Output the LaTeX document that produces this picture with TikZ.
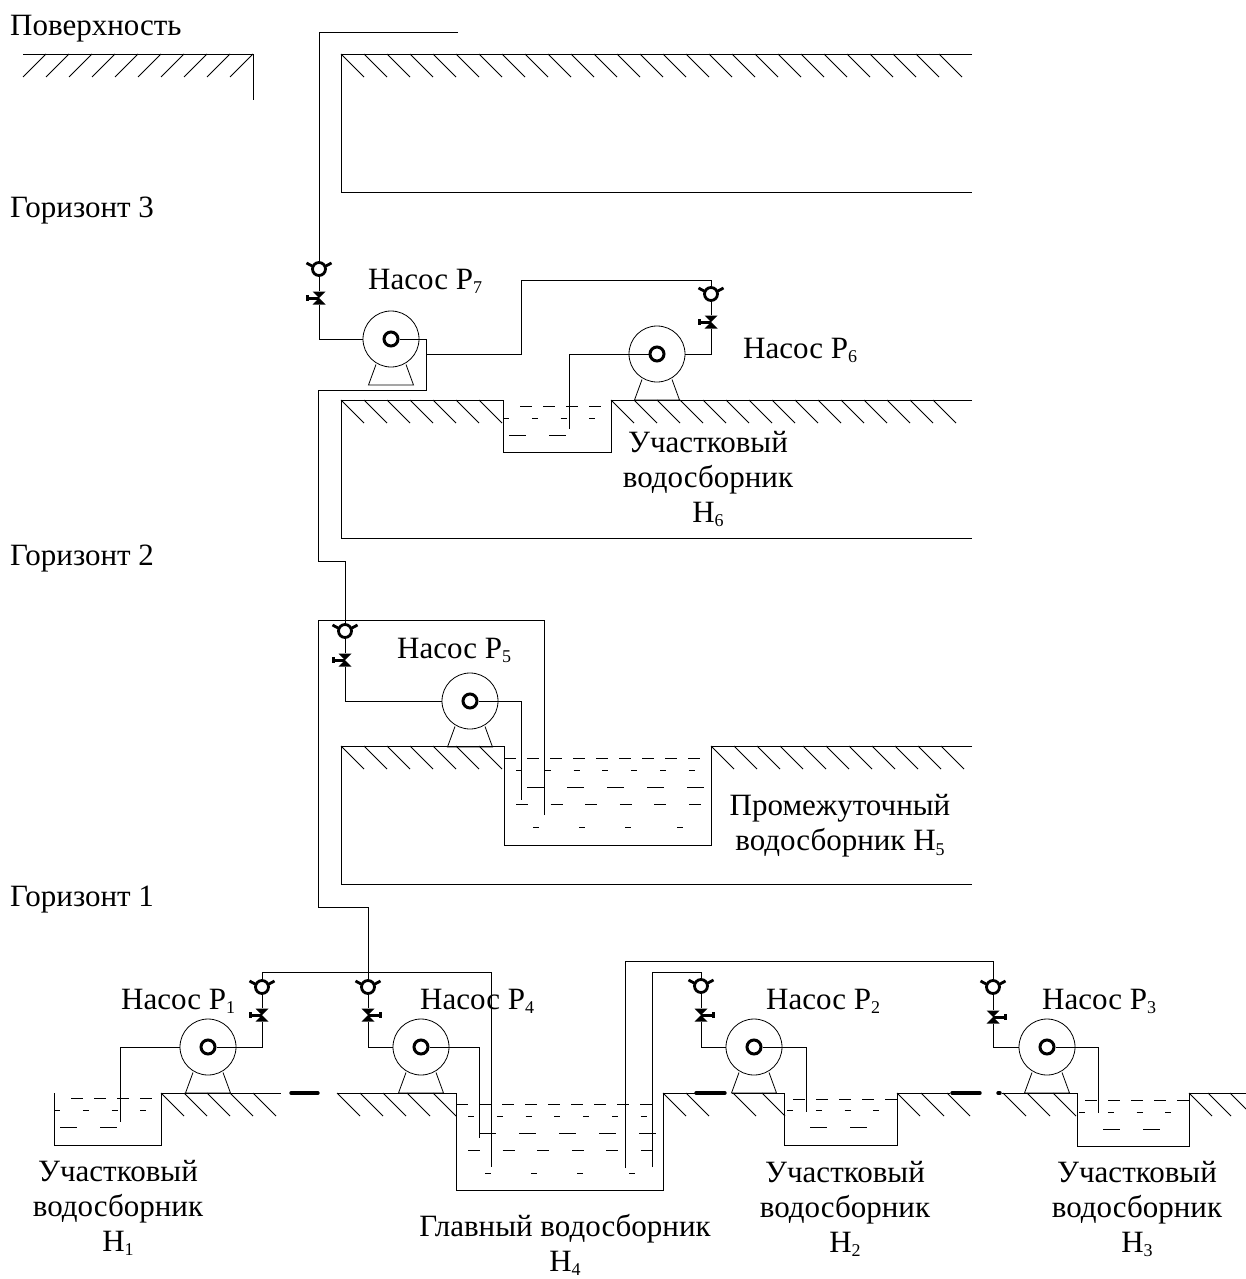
\documentclass[tikz,border=0pt]{standalone}
\usepackage{fontspec}
\setmainfont{Liberation Serif}
\newcommand{\lowidx}[1]{\raisebox{-4.5pt}{\fontsize{18}{18}\selectfont #1}}
\tikzset{
  pipe/.style={line width=0.9pt},
  ground/.style={line width=0.9pt},
  hatch/.style={line width=0.8pt},
  water/.style={line width=0.8pt},
  seal/.style={line width=3.4pt,line cap=round},
  txt/.style={font=\fontsize{31}{35}\selectfont,align=center,inner sep=0pt},
  pumpbody/.style={circle,draw,line width=0.8pt,minimum size=56pt,inner sep=0pt},
  pumpring/.style={circle,draw,line width=3pt,minimum size=14pt,inner sep=0pt},
  checkring/.style={circle,draw,line width=2.8pt,minimum size=13pt,inner sep=0pt},
  pics/pump/.style={code={
    \node[pumpbody] (-body) at (0,0) {};
    \node[pumpring] (-ring) at (0,0) {};
    \draw[line width=0.8pt] (-15,25.5) -- (-22.5,46) -- (22.5,46) -- (15,25.5);
  }},
  pics/checkvalve/.style={code={
    \node[checkring] (-ring) at (0,0) {};
    \draw[line width=2.8pt] (-12.5,-6) -- (-6,-2.5) (12.5,-6) -- (6,-2.5);
  }},
  pics/gate/.style={code={
    \node[inner sep=0pt,minimum size=13pt] (-body) at (0,0) {};
    \fill (-6.5,-6.5) -- (6.5,-6.5) -- (0,0) -- cycle (-6.5,6.5) -- (6.5,6.5) -- (0,0) -- cycle;
    \draw[line width=3pt] (-12,0) -- (0,0);
    \fill (-13.5,-3.2) rectangle (-10.5,3.2);
  }}
}
\newcommand{\hatchrow}[2]{\foreach \x in {#2} \draw[hatch] (\x,#1) -- ++(23,23);}
\newcommand{\dashrow}[5]{\foreach \k in {0,...,#4} \draw[water] ({#1+\k*#2},#5) -- ++(#3,0);}
\newcommand{\bigsump}[2]{
  \begin{scope}[shift={(#1,#2)}]
    \dashrow{456}{23}{12}{8}{1104}
    \dashrow{468}{28.8}{6}{6}{1116}
    \dashrow{479}{40}{17}{4}{1133}
    \dashrow{468}{34.6}{12}{5}{1150}
    \foreach \x in {485,531,577,629} \draw[water] (\x,1173) -- ++(6,0);
  \end{scope}
}
\begin{document}
\begin{tikzpicture}[x=1pt,y=-1pt]
  \useasboundingbox (0,0) rectangle (1246,1279);

  \draw[ground] (23,54) -- (253,54) -- (253,100);
  \foreach \x in {23,46,...,230} \draw[hatch] (\x,77) -- ++(23,-23);
  \draw[ground] (972,54) -- (341,54) -- (341,192) -- (972,192);
  \hatchrow{54}{341,364,...,939}
  \draw[ground] (972,400) -- (611,400) -- (611,452) -- (503,452) -- (503,400) -- (341,400) -- (341,538) -- (972,538);
  \hatchrow{400}{341,364,...,480}
  \hatchrow{400}{611,634,...,945}
  \draw[ground] (972,746) -- (711,746) -- (711,845) -- (504,845) -- (504,746) -- (341,746) -- (341,884) -- (972,884);
  \hatchrow{746}{341,364,...,481}
  \hatchrow{746}{711,734,...,945}

  \draw[ground] (54,1093) -- (54,1145) -- (161,1145) -- (161,1093) -- (281,1093);
  \draw[seal] (291,1093) -- (318,1093);
  \draw[ground] (337,1093) -- (456,1093) -- (456,1190) -- (663,1190) -- (663,1093) -- (695,1093);
  \draw[seal] (696,1093) -- (725,1093);
  \draw[ground] (732,1093) -- (784,1093) -- (784,1145) -- (897,1145) -- (897,1093) -- (950,1093);
  \draw[seal] (952,1093) -- (980,1093);
  \draw[seal] (998,1093) -- (1000,1093);
  \draw[ground] (1002,1093) -- (1077,1093) -- (1077,1146) -- (1189,1146) -- (1189,1093) -- (1246,1093);
  \hatchrow{1093}{161,184,207,230,253,337,360,383,407,433,663,686,733,762,897,921,947,1003,1027,1053,1189,1208}
  \draw[hatch] (1230,1093) -- (1246,1109);

  \dashrow{520}{23}{12}{3}{406}
  \dashrow{503}{28.8}{6}{3}{418}
  \dashrow{509}{40}{17}{1}{435}
  \bigsump{48}{-346}
  \bigsump{0}{0}
  \dashrow{71}{23}{12}{3}{1098}
  \dashrow{54}{28.8}{6}{3}{1110}
  \dashrow{60}{40}{17}{1}{1127}
  \dashrow{793}{23}{12}{4}{1099}
  \dashrow{787}{28.8}{6}{3}{1110}
  \dashrow{810}{40}{17}{1}{1127}
  \dashrow{1085}{23}{12}{4}{1100}
  \dashrow{1079}{28.8}{6}{3}{1112}
  \dashrow{1103}{40}{17}{1}{1129}

  \pic (p7) at (391,339) {pump};
  \pic (p6) at (657,354) {pump};
  \pic (p5) at (470,701) {pump};
  \pic (p1) at (208,1047) {pump};
  \pic (p4) at (421,1047) {pump};
  \pic (p2) at (754,1047) {pump};
  \pic (p3) at (1047,1047) {pump};

  \pic (cv7) at (319,269) {checkvalve};
  \pic (cv6) at (711,294) {checkvalve};
  \pic (cv5) at (345,631) {checkvalve};
  \pic (cv1) at (262,987) {checkvalve};
  \pic (cv4) at (368,987) {checkvalve};
  \pic (cv2) at (701,986) {checkvalve};
  \pic (cv3) at (993,987) {checkvalve};

  \pic (v7) at (319,298) {gate};
  \pic (v6) at (711,322) {gate};
  \pic (v5) at (345,660) {gate};
  \pic (v1) at (262,1015) {gate};
  \pic[xscale=-1] (v4) at (368,1015) {gate};
  \pic[xscale=-1] (v2) at (701,1015) {gate};
  \pic[xscale=-1] (v3) at (993,1017) {gate};

  \coordinate (t7) at (458,32);
  \coordinate (j1) at (426,390);
  \coordinate (j2) at (318,561);
  \coordinate (j3) at (318,620);
  \coordinate (j4) at (368,907);
  \coordinate (t6) at (521,280);
  \coordinate (w6) at (426,354);
  \coordinate (e6) at (569,429);
  \coordinate (e5a) at (521,800);
  \coordinate (e5b) at (544,815);
  \coordinate (e1) at (120,1122);
  \coordinate (h4) at (491,972);
  \coordinate (e4a) at (479,1138);
  \coordinate (e4b) at (491,1167);
  \coordinate (h2) at (652,972);
  \coordinate (e2a) at (652,1167);
  \coordinate (e2b) at (806,1112);
  \coordinate (h3) at (625,961);
  \coordinate (e3a) at (625,1168);
  \coordinate (e3b) at (1098,1113);

  \draw[pipe] (t7) -| (cv7-ring.north);
  \draw[pipe] (cv7-ring) -- (v7-body);
  \draw[pipe] (v7-body) |- (p7-body.west);
  \draw[pipe] (p7-ring.east) -| (j1) -| (j2) -| (cv5-ring.north);
  \draw[pipe] (cv5-ring) -- (v5-body);
  \draw[pipe] (v5-body) |- (p5-body.west);
  \draw[pipe] (p5-ring.east) -| (e5a);
  \draw[pipe] (e5b) |- (j3) |- (j4) -- (cv4-ring.north);

  \draw[pipe] (p6-ring.west) -| (e6);
  \draw[pipe] (p6-body.east) -| (v6-body);
  \draw[pipe] (v6-body) -- (cv6-ring);
  \draw[pipe] (cv6-ring.north) |- (t6) |- (w6);

  \draw[pipe] (p1-body.west) -| (e1);
  \draw[pipe] (p1-ring.east) -| (v1-body);
  \draw[pipe] (v1-body) -- (cv1-ring);
  \draw[pipe] (cv1-ring.north) |- (h4) -- (e4b);
  \draw[pipe] (cv4-ring) -- (v4-body);
  \draw[pipe] (v4-body) |- (p4-body.west);
  \draw[pipe] (p4-ring.east) -| (e4a);

  \draw[pipe] (e2a) |- (h2) -| (cv2-ring.north);
  \draw[pipe] (cv2-ring) -- (v2-body);
  \draw[pipe] (v2-body) |- (p2-body.west);
  \draw[pipe] (p2-ring.east) -| (e2b);

  \draw[pipe] (e3a) |- (h3) -| (cv3-ring.north);
  \draw[pipe] (cv3-ring) -- (v3-body);
  \draw[pipe] (v3-body) |- (p3-body.west);
  \draw[pipe] (p3-ring.east) -| (e3b);

  \node[txt,anchor=base west] (surf) at (10,36) {Поверхность};
  \node[txt,anchor=base west] (hor3) at (10,217) {Горизонт 3};
  \node[txt,anchor=base west] (hor2) at (10,565) {Горизонт 2};
  \node[txt,anchor=base west] (hor1) at (10,906) {Горизонт 1};

  \node[txt,anchor=base west] (lp7) at (368,289) {Насос Р\lowidx{7}};
  \node[txt,anchor=base west] (lp6) at (743,358) {Насос Р\lowidx{6}};
  \node[txt,anchor=base west] (lp5) at (397,658) {Насос Р\lowidx{5}};
  \node[txt,anchor=base west] (lp1) at (121,1009) {Насос Р\lowidx{1}};
  \node[txt,anchor=base west] (lp4) at (420,1009) {Насос Р\lowidx{4}};
  \node[txt,anchor=base west] (lp2) at (766,1009) {Насос Р\lowidx{2}};
  \node[txt,anchor=base west] (lp3) at (1042,1009) {Насос Р\lowidx{3}};

  \node[txt] (s6) at (708,479) {Участковый\\водосборник\\Н\lowidx{6}};
  \node[txt] (s5) at (840,826) {Промежуточный\\водосборник Н\lowidx{5}};
  \node[txt] (s1) at (118,1208) {Участковый\\водосборник\\Н\lowidx{1}};
  \node[txt] (s4) at (565,1245) {Главный водосборник\\Н\lowidx{4}};
  \node[txt] (s2) at (845,1209) {Участковый\\водосборник\\Н\lowidx{2}};
  \node[txt] (s3) at (1137,1209) {Участковый\\водосборник\\Н\lowidx{3}};
\end{tikzpicture}
\end{document}
